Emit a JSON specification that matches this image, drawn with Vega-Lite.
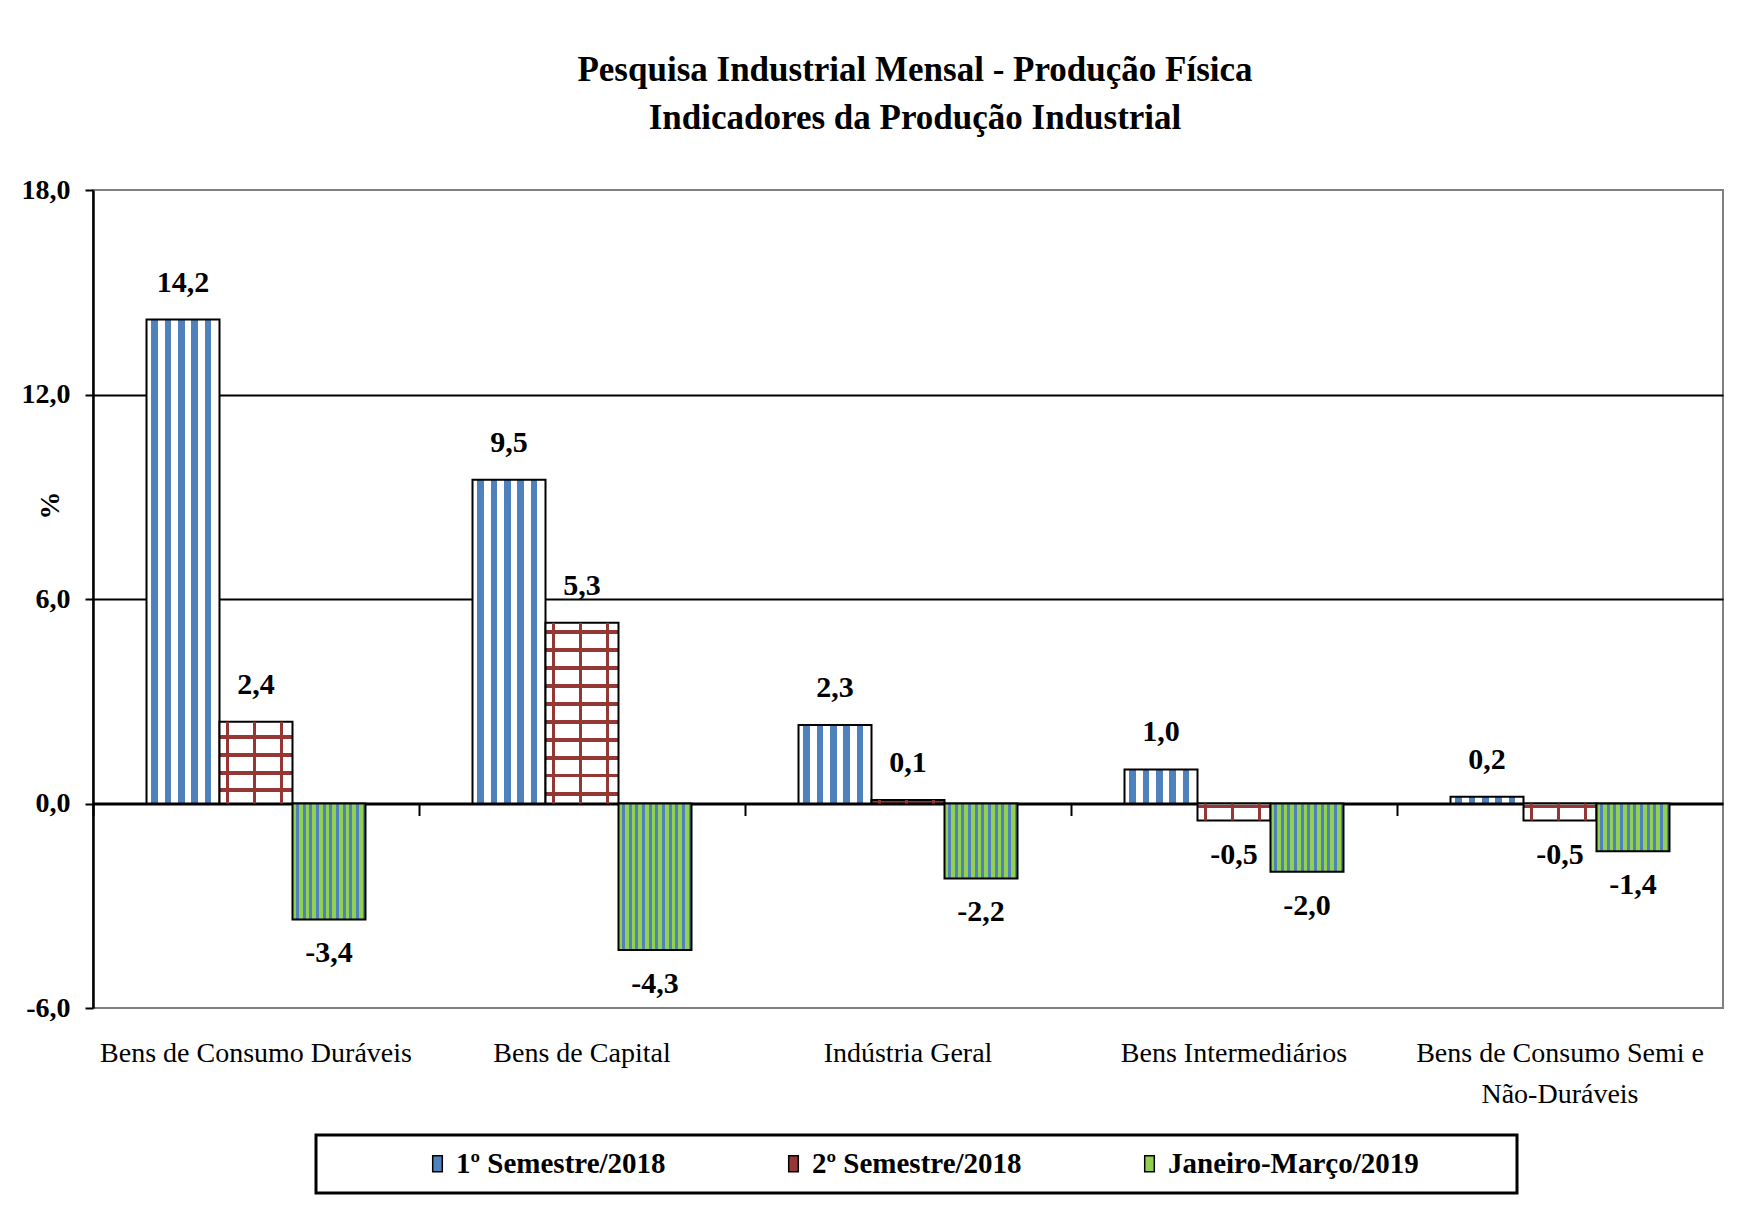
{
  "$schema": "https://vega.github.io/schema/vega-lite/v6.json",
  "autosize": "none",
  "width": 1630,
  "height": 818,
  "padding": {"left": 93, "top": 190, "right": 19, "bottom": 197},
  "background": "white",
  "title": {
    "text": ["Pesquisa Industrial Mensal - Produção Física", "Indicadores da Produção Industrial"],
    "font": "Liberation Serif", "fontSize": 35, "fontWeight": "bold", "color": "black",
    "anchor": "middle", "frame": "group", "offset": 40, "lineHeight": 48, "dx": 7
  },
  "data": {"values": [
    {"cat": "Bens de Consumo Duráveis", "series": "1º Semestre/2018", "value": 14.2},
    {"cat": "Bens de Consumo Duráveis", "series": "2º Semestre/2018", "value": 2.4},
    {"cat": "Bens de Consumo Duráveis", "series": "Janeiro-Março/2019", "value": -3.4},
    {"cat": "Bens de Capital", "series": "1º Semestre/2018", "value": 9.5},
    {"cat": "Bens de Capital", "series": "2º Semestre/2018", "value": 5.3},
    {"cat": "Bens de Capital", "series": "Janeiro-Março/2019", "value": -4.3},
    {"cat": "Indústria Geral", "series": "1º Semestre/2018", "value": 2.3},
    {"cat": "Indústria Geral", "series": "2º Semestre/2018", "value": 0.1},
    {"cat": "Indústria Geral", "series": "Janeiro-Março/2019", "value": -2.2},
    {"cat": "Bens Intermediários", "series": "1º Semestre/2018", "value": 1.0},
    {"cat": "Bens Intermediários", "series": "2º Semestre/2018", "value": -0.5},
    {"cat": "Bens Intermediários", "series": "Janeiro-Março/2019", "value": -2.0},
    {"cat": "Bens de Consumo Semi e Não-Duráveis", "series": "1º Semestre/2018", "value": 0.2},
    {"cat": "Bens de Consumo Semi e Não-Duráveis", "series": "2º Semestre/2018", "value": -0.5},
    {"cat": "Bens de Consumo Semi e Não-Duráveis", "series": "Janeiro-Março/2019", "value": -1.4}
  ]},
  "encoding": {
    "x": {
      "field": "cat", "type": "nominal",
      "sort": ["Bens de Consumo Duráveis", "Bens de Capital", "Indústria Geral", "Bens Intermediários", "Bens de Consumo Semi e Não-Duráveis"],
      "scale": {"paddingInner": 0, "paddingOuter": 0},
      "title": null,
      "axis": {
        "offset": -204.5, "bandPosition": 0, "labelOffset": 0, "labelAngle": 0,
        "labelPadding": 224, "labelAlign": "center", "labelBaseline": "top",
        "labelFont": "Liberation Serif", "labelFontSize": 28, "labelColor": "black",
        "labelLimit": 500, "labelLineHeight": 41, "labelOverlap": false, "labelBound": false, "labelFlush": false,
        "labelExpr": "datum.value == 'Bens de Consumo Semi e Não-Duráveis' ? ['Bens de Consumo Semi e', 'Não-Duráveis'] : datum.value",
        "domain": true, "domainColor": "black", "domainWidth": 3,
        "ticks": true, "tickSize": 12, "tickWidth": 2, "tickColor": "black",
        "grid": false
      }
    },
    "xOffset": {
      "field": "series", "type": "nominal",
      "sort": ["1º Semestre/2018", "2º Semestre/2018", "Janeiro-Março/2019"],
      "scale": {"domain": ["1º Semestre/2018", "2º Semestre/2018", "Janeiro-Março/2019"], "paddingInner": 0, "paddingOuter": 0.733}
    },
    "y": {
      "field": "value", "type": "quantitative",
      "scale": {"domain": [-6, 18], "nice": false, "zero": false},
      "title": "%",
      "axis": {
        "values": [-6, 0, 6, 12, 18], "format": ".1f",
        "labelFont": "Liberation Serif", "labelFontSize": 28, "labelFontWeight": "bold", "labelColor": "black",
        "labelPadding": 15,
        "domain": true, "domainColor": "black", "domainWidth": 2.5,
        "ticks": true, "tickSize": 8, "tickWidth": 2, "tickColor": "black",
        "grid": true, "gridWidth": 2,
        "gridColor": {"condition": {"test": "datum.value === 6 || datum.value === 12", "value": "black"}, "value": "rgba(0,0,0,0)"},
        "titleFont": "Liberation Serif", "titleFontSize": 28, "titleFontWeight": "bold", "titleColor": "black",
        "titleX": -43, "titleY": 315, "titleAngle": -90, "titleAlign": "center", "titleBaseline": "middle"
      }
    }
  },
  "layer": [
    {
      "mark": {"type": "bar", "stroke": "black", "strokeWidth": 2},
      "encoding": {
        "fill": {
          "field": "series", "type": "nominal",
          "scale": {
            "domain": ["1º Semestre/2018", "2º Semestre/2018", "Janeiro-Março/2019"],
            "range": ["#4F81BD", "#953735", "#92D050"]
          },
          "condition": [
            {"test": "datum.series == '1º Semestre/2018'", "value":
              {"gradient": "linear", "x1": 0, "y1": 0, "x2": 1, "y2": 0, "stops": [
                {"offset": 0, "color": "#ffffff"}, {"offset": 0.068, "color": "#ffffff"}, {"offset": 0.068, "color": "#4F81BD"},
                {"offset": 0.159, "color": "#4F81BD"}, {"offset": 0.159, "color": "#ffffff"},
                {"offset": 0.25, "color": "#ffffff"}, {"offset": 0.25, "color": "#4F81BD"},
                {"offset": 0.341, "color": "#4F81BD"}, {"offset": 0.341, "color": "#ffffff"},
                {"offset": 0.432, "color": "#ffffff"}, {"offset": 0.432, "color": "#4F81BD"},
                {"offset": 0.523, "color": "#4F81BD"}, {"offset": 0.523, "color": "#ffffff"},
                {"offset": 0.614, "color": "#ffffff"}, {"offset": 0.614, "color": "#4F81BD"},
                {"offset": 0.705, "color": "#4F81BD"}, {"offset": 0.705, "color": "#ffffff"},
                {"offset": 0.795, "color": "#ffffff"}, {"offset": 0.795, "color": "#4F81BD"},
                {"offset": 0.886, "color": "#4F81BD"}, {"offset": 0.886, "color": "#ffffff"},
                {"offset": 1, "color": "#ffffff"}
              ]}
            },
            {"test": "datum.series == 'Janeiro-Março/2019'", "value":
              {"gradient": "linear", "x1": 0, "y1": 0, "x2": 1, "y2": 0, "stops": [
                {"offset": 0, "color": "#92D050"}, {"offset": 0.05, "color": "#92D050"}, {"offset": 0.05, "color": "#4F81BD"},
                {"offset": 0.0909, "color": "#4F81BD"}, {"offset": 0.0909, "color": "#92D050"},
                {"offset": 0.1409, "color": "#92D050"}, {"offset": 0.1409, "color": "#4F81BD"},
                {"offset": 0.1818, "color": "#4F81BD"}, {"offset": 0.1818, "color": "#92D050"},
                {"offset": 0.2318, "color": "#92D050"}, {"offset": 0.2318, "color": "#4F81BD"},
                {"offset": 0.2727, "color": "#4F81BD"}, {"offset": 0.2727, "color": "#92D050"},
                {"offset": 0.3227, "color": "#92D050"}, {"offset": 0.3227, "color": "#4F81BD"},
                {"offset": 0.3636, "color": "#4F81BD"}, {"offset": 0.3636, "color": "#92D050"},
                {"offset": 0.4136, "color": "#92D050"}, {"offset": 0.4136, "color": "#4F81BD"},
                {"offset": 0.4545, "color": "#4F81BD"}, {"offset": 0.4545, "color": "#92D050"},
                {"offset": 0.5045, "color": "#92D050"}, {"offset": 0.5045, "color": "#4F81BD"},
                {"offset": 0.5455, "color": "#4F81BD"}, {"offset": 0.5455, "color": "#92D050"},
                {"offset": 0.5955, "color": "#92D050"}, {"offset": 0.5955, "color": "#4F81BD"},
                {"offset": 0.6364, "color": "#4F81BD"}, {"offset": 0.6364, "color": "#92D050"},
                {"offset": 0.6864, "color": "#92D050"}, {"offset": 0.6864, "color": "#4F81BD"},
                {"offset": 0.7273, "color": "#4F81BD"}, {"offset": 0.7273, "color": "#92D050"},
                {"offset": 0.7773, "color": "#92D050"}, {"offset": 0.7773, "color": "#4F81BD"},
                {"offset": 0.8182, "color": "#4F81BD"}, {"offset": 0.8182, "color": "#92D050"},
                {"offset": 0.8682, "color": "#92D050"}, {"offset": 0.8682, "color": "#4F81BD"},
                {"offset": 0.9091, "color": "#4F81BD"}, {"offset": 0.9091, "color": "#92D050"},
                {"offset": 0.9591, "color": "#92D050"}, {"offset": 0.9591, "color": "#4F81BD"},
                {"offset": 1, "color": "#4F81BD"}
              ]}
            },
            {"test": "datum.series == '2º Semestre/2018' && datum.value > 4", "value":
              {"gradient": "linear", "x1": 0, "y1": 0, "x2": 0, "y2": 1, "stops": [
                {"offset": 0, "color": "#ffffff"},
                {"offset": 0.039, "color": "#ffffff"}, {"offset": 0.039, "color": "#953735"}, {"offset": 0.061, "color": "#953735"}, {"offset": 0.061, "color": "#ffffff"},
                {"offset": 0.138, "color": "#ffffff"}, {"offset": 0.138, "color": "#953735"}, {"offset": 0.16, "color": "#953735"}, {"offset": 0.16, "color": "#ffffff"},
                {"offset": 0.238, "color": "#ffffff"}, {"offset": 0.238, "color": "#953735"}, {"offset": 0.26, "color": "#953735"}, {"offset": 0.26, "color": "#ffffff"},
                {"offset": 0.337, "color": "#ffffff"}, {"offset": 0.337, "color": "#953735"}, {"offset": 0.359, "color": "#953735"}, {"offset": 0.359, "color": "#ffffff"},
                {"offset": 0.436, "color": "#ffffff"}, {"offset": 0.436, "color": "#953735"}, {"offset": 0.459, "color": "#953735"}, {"offset": 0.459, "color": "#ffffff"},
                {"offset": 0.536, "color": "#ffffff"}, {"offset": 0.536, "color": "#953735"}, {"offset": 0.558, "color": "#953735"}, {"offset": 0.558, "color": "#ffffff"},
                {"offset": 0.635, "color": "#ffffff"}, {"offset": 0.635, "color": "#953735"}, {"offset": 0.657, "color": "#953735"}, {"offset": 0.657, "color": "#ffffff"},
                {"offset": 0.735, "color": "#ffffff"}, {"offset": 0.735, "color": "#953735"}, {"offset": 0.757, "color": "#953735"}, {"offset": 0.757, "color": "#ffffff"},
                {"offset": 0.834, "color": "#ffffff"}, {"offset": 0.834, "color": "#953735"}, {"offset": 0.856, "color": "#953735"}, {"offset": 0.856, "color": "#ffffff"},
                {"offset": 0.934, "color": "#ffffff"}, {"offset": 0.934, "color": "#953735"}, {"offset": 0.956, "color": "#953735"}, {"offset": 0.956, "color": "#ffffff"},
                {"offset": 1, "color": "#ffffff"}
              ]}
            },
            {"test": "datum.series == '2º Semestre/2018' && datum.value > 1", "value":
              {"gradient": "linear", "x1": 0, "y1": 0, "x2": 0, "y2": 1, "stops": [
                {"offset": 0, "color": "#ffffff"},
                {"offset": 0.16, "color": "#ffffff"}, {"offset": 0.16, "color": "#953735"}, {"offset": 0.21, "color": "#953735"}, {"offset": 0.21, "color": "#ffffff"},
                {"offset": 0.38, "color": "#ffffff"}, {"offset": 0.38, "color": "#953735"}, {"offset": 0.43, "color": "#953735"}, {"offset": 0.43, "color": "#ffffff"},
                {"offset": 0.6, "color": "#ffffff"}, {"offset": 0.6, "color": "#953735"}, {"offset": 0.65, "color": "#953735"}, {"offset": 0.65, "color": "#ffffff"},
                {"offset": 0.815, "color": "#ffffff"}, {"offset": 0.815, "color": "#953735"}, {"offset": 0.865, "color": "#953735"}, {"offset": 0.865, "color": "#ffffff"},
                {"offset": 1, "color": "#ffffff"}
              ]}
            },
            {"test": "datum.series == '2º Semestre/2018' && datum.value < 0", "value":
              {"gradient": "linear", "x1": 0, "y1": 0, "x2": 0, "y2": 1, "stops": [
                {"offset": 0, "color": "#ffffff"}, {"offset": 0.06, "color": "#ffffff"}, {"offset": 0.06, "color": "#953735"},
                {"offset": 0.26, "color": "#953735"}, {"offset": 0.26, "color": "#ffffff"}, {"offset": 1, "color": "#ffffff"}
              ]}
            }
          ],
          "legend": {
            "title": " ", "titleOrient": "left", "titlePadding": 93,
            "titleFont": "Liberation Serif", "titleFontSize": 28,
            "orient": "none", "legendX": 223, "legendY": 945,
            "direction": "horizontal", "columns": 3, "columnPadding": 113,
            "padding": 14, "strokeColor": "black", "fillColor": "white",
            "symbolType": "M-0.6,-1H0.6V1H-0.6Z", "symbolSize": 256,
            "symbolStrokeColor": "black", "symbolStrokeWidth": 1.5,
            "labelFont": "Liberation Serif", "labelFontSize": 29, "labelFontWeight": "bold", "labelColor": "black",
            "labelOffset": 4, "labelLimit": 500,
            "labelExpr": "indexof(datum.label, 'Janeiro') >= 0 ? datum.label + '\u2800\u2800\u2800\u2800' : datum.label",
            "encode": {
              "legend": {"update": {"strokeWidth": {"value": 3}}}
            }
          }
        }
      }
    },
    {
      "transform": [{"filter": "datum.series == '2º Semestre/2018'"}],
      "mark": {"type": "bar", "strokeWidth": 0,
        "fill": {"gradient": "linear", "x1": 0, "y1": 0, "x2": 1, "y2": 0, "stops": [
          {"offset": 0, "color": "rgba(255,255,255,0)"}, {"offset": 0.09, "color": "rgba(255,255,255,0)"},
          {"offset": 0.09, "color": "#953735"}, {"offset": 0.13, "color": "#953735"},
          {"offset": 0.13, "color": "rgba(255,255,255,0)"}, {"offset": 0.46, "color": "rgba(255,255,255,0)"},
          {"offset": 0.46, "color": "#953735"}, {"offset": 0.5, "color": "#953735"},
          {"offset": 0.5, "color": "rgba(255,255,255,0)"}, {"offset": 0.83, "color": "rgba(255,255,255,0)"},
          {"offset": 0.83, "color": "#953735"}, {"offset": 0.87, "color": "#953735"},
          {"offset": 0.87, "color": "rgba(255,255,255,0)"}, {"offset": 1, "color": "rgba(255,255,255,0)"}
        ]}
      },
      "encoding": {}
    },
    {
      "transform": [{"filter": "datum.value >= 0"}],
      "mark": {"type": "text", "font": "Liberation Serif", "fontSize": 30, "fontWeight": "bold", "color": "black", "baseline": "middle", "dy": -37},
      "encoding": {"text": {"field": "value", "type": "quantitative", "format": ".1f"}}
    },
    {
      "transform": [{"filter": "datum.value < 0"}],
      "mark": {"type": "text", "font": "Liberation Serif", "fontSize": 30, "fontWeight": "bold", "color": "black", "baseline": "middle", "dy": 34},
      "encoding": {"text": {"field": "value", "type": "quantitative", "format": ".1f"}}
    }
  ],
  "config": {
    "locale": {"number": {"decimal": ",", "thousands": ".", "grouping": [3], "currency": ["R$", ""], "minus": "-"}},
    "view": {"stroke": "#808080", "strokeWidth": 2, "fill": "white"}
  }
}
